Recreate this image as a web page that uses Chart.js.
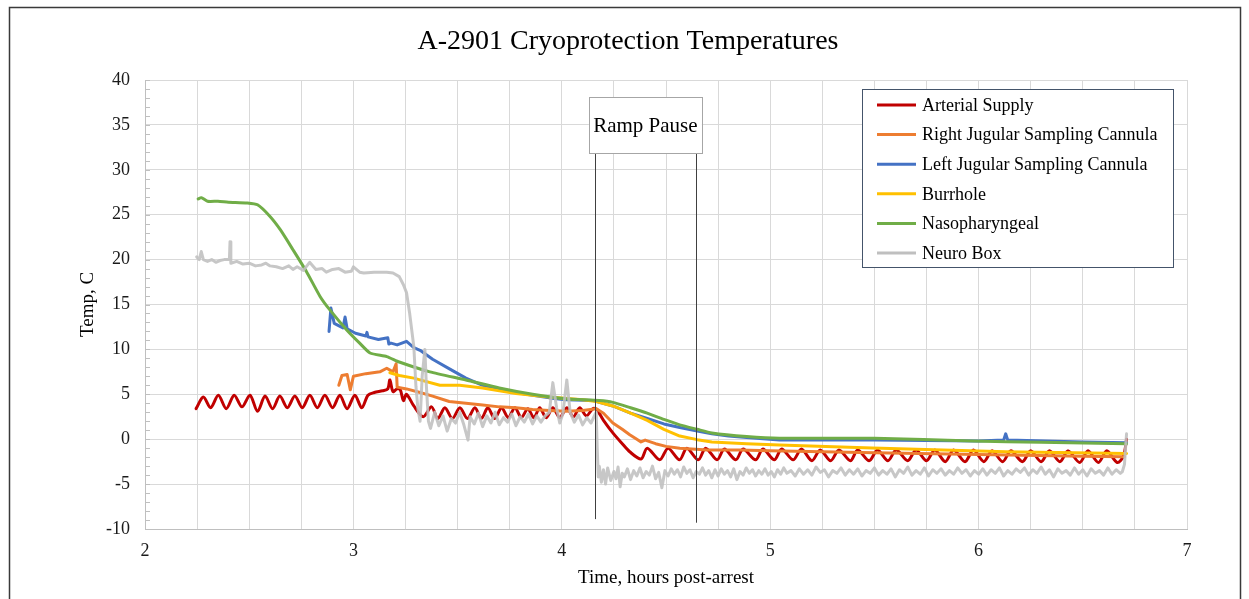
<!DOCTYPE html>
<html>
<head>
<meta charset="utf-8">
<script src="https://cdn.jsdelivr.net/npm/chart.js@4"></script>
<style>
html,body{margin:0;padding:0;background:#fff;}
canvas{display:block;}
</style>
</head>
<body>
<canvas id="c" width="1249" height="599"></canvas>
<script>
const titleText = 'A-2901 Cryoprotection Temperatures';
const xAxisTitle = 'Time, hours post-arrest';
const yAxisTitle = 'Temp, C';
const seriesNames = ['Arterial Supply','Right Jugular Sampling Cannula','Left Jugular Sampling Cannula','Burrhole','Nasopharyngeal','Neuro Box'];
const xTickMin = 2, xTickMax = 7, xTickStep = 0.25;
const yTickMin = -10, yTickMax = 40, yTickStep = 5;
const rampPauseLabel = 'Ramp Pause';
const rampPauseStart = 4.158, rampPauseEnd = 4.643;

const arterialSupply = [
[2.245,3.4],[2.28,4.7],[2.315,3.5],[2.352,4.9],[2.39,3.4],[2.428,4.9],[2.465,3.6],[2.504,4.9],[2.54,3.1],[2.576,4.8],
[2.612,3.4],[2.647,4.8],[2.683,3.5],[2.719,4.8],[2.755,3.5],[2.791,4.9],[2.827,3.5],[2.863,4.9],[2.9,3.5],[2.935,4.9],
[2.97,3.4],[3.007,4.9],[3.04,3.5],[3.07,4.9],[3.1,5.2],[3.14,5.4],[3.165,5.6],[3.175,6.6],[3.19,5.3],[3.21,5.6],
[3.225,5.5],[3.24,4.3],[3.255,5.0],[3.29,3.7],[3.335,2.5],[3.375,3.6],[3.405,2.3],[3.439,3.5],[3.475,2.3],[3.511,3.5],
[3.547,2.3],[3.583,3.5],[3.614,2.3],[3.645,3.5],[3.678,2.3],[3.711,3.5],[3.743,2.4],[3.775,3.5],[3.806,2.4],[3.837,3.4],
[3.866,2.4],[3.894,3.5],[3.925,2.4],[3.957,3.5],[3.99,2.4],[4.024,3.5],[4.055,2.5],[4.086,3.5],[4.118,2.6],[4.149,3.4],
[4.166,3.35],[4.2,2.1],[4.245,0.7],[4.29,-0.5],[4.326,-1.4],[4.38,-2.2],[4.41,-1.0],[4.47,-2.3],[4.51,-1.0],[4.565,-2.3],
[4.60,-1.0],[4.655,-2.3],[4.69,-1.0],[4.745,-2.3],[4.78,-1.1],[4.835,-2.3],[4.87,-1.1],[4.93,-2.3],[4.965,-1.1],[5.02,-2.3],
[5.055,-1.1],[5.11,-2.3],[5.15,-1.1],[5.20,-2.4],[5.24,-1.2],[5.29,-2.4],[5.33,-1.2],[5.385,-2.4],[5.42,-1.2],[5.475,-2.4],
[5.515,-1.2],[5.565,-2.4],[5.605,-1.2],[5.66,-2.4],[5.70,-1.2],[5.75,-2.4],[5.79,-1.2],[5.84,-2.5],[5.88,-1.2],[5.935,-2.5],
[5.975,-1.2],[6.025,-2.5],[6.065,-1.3],[6.115,-2.5],[6.155,-1.3],[6.21,-2.5],[6.25,-1.3],[6.30,-2.5],[6.34,-1.3],[6.39,-2.5],
[6.43,-1.3],[6.485,-2.6],[6.525,-1.3],[6.575,-2.6],[6.615,-1.3],[6.665,-2.6],[6.695,-1.9],[6.71,0.0]
];
const rightJugular = [
[2.93,6.0],[2.945,7.1],[2.97,7.2],[2.985,5.5],[3.0,7.0],[3.06,7.3],[3.127,7.5],[3.16,7.9],[3.19,7.5],[3.205,8.4],
[3.21,5.8],[3.255,5.6],[3.32,5.2],[3.38,4.8],[3.46,4.2],[3.54,4.0],[3.62,3.8],[3.70,3.6],[3.78,3.5],[3.86,3.3],
[3.94,3.2],[4.02,3.1],[4.1,3.2],[4.166,3.4],[4.2,2.9],[4.245,1.8],[4.29,1.1],[4.326,0.5],[4.36,0.0],[4.38,-0.3],
[4.4,-0.1],[4.45,-0.5],[4.5,-0.8],[4.566,-1.0],[4.7,-1.2],[4.85,-1.2],[5.0,-1.3],[5.5,-1.5],[6.0,-1.7],[6.5,-1.9],[6.7,-1.95]
];
const leftJugular = [
[2.883,12.0],[2.892,14.6],[2.908,12.9],[2.95,12.4],[2.96,13.6],[2.97,12.3],[3.01,11.8],[3.06,11.5],[3.065,11.9],[3.07,11.4],
[3.12,11.1],[3.165,11.3],[3.17,10.6],[3.18,10.7],[3.21,10.5],[3.255,10.9],[3.29,10.2],[3.32,9.9],[3.38,8.9],[3.463,7.8],
[3.54,6.8],[3.62,6.0],[3.70,5.6],[3.78,5.2],[3.86,4.9],[3.94,4.6],[4.02,4.4],[4.15,4.3],[4.245,3.7],[4.33,2.9],
[4.41,2.3],[4.49,1.7],[4.566,1.3],[4.65,0.9],[4.72,0.6],[4.8,0.35],[4.887,0.2],[5.045,-0.1],[5.5,-0.1],[6.0,-0.2],
[6.12,-0.1],[6.13,0.6],[6.14,-0.1],[6.5,-0.3],[6.71,-0.4]
];
const burrhole = [
[3.175,7.4],[3.22,7.1],[3.29,6.8],[3.32,6.6],[3.415,6.0],[3.51,6.0],[3.62,5.7],[3.78,5.1],[3.94,4.7],[4.10,4.4],
[4.166,4.2],[4.245,3.7],[4.33,2.9],[4.41,2.1],[4.49,1.1],[4.566,0.35],[4.65,-0.05],[4.72,-0.3],[4.887,-0.5],[5.045,-0.65],
[5.49,-0.97],[6.13,-1.4],[6.71,-1.6]
];
const nasopharyngeal = [
[2.255,26.75],[2.27,26.9],[2.3,26.5],[2.35,26.5],[2.4,26.4],[2.49,26.3],[2.54,26.1],[2.6,24.8],[2.65,23.3],[2.71,21.1],
[2.775,18.65],[2.84,15.9],[2.887,14.4],[2.967,12.2],[3.03,10.7],[3.08,9.6],[3.16,9.2],[3.22,8.6],[3.367,7.5],[3.54,6.6],
[3.70,5.7],[3.86,5.0],[4.02,4.5],[4.18,4.3],[4.245,4.1],[4.33,3.5],[4.41,2.9],[4.49,2.2],[4.566,1.6],[4.65,1.1],
[4.72,0.7],[4.887,0.3],[5.045,0.1],[5.5,0.1],[5.97,-0.2],[6.3,-0.35],[6.71,-0.5]
];
const neuroBox = [
[2.248,20.3],[2.26,20.0],[2.27,20.9],[2.28,20.0],[2.3,19.8],[2.32,20.0],[2.34,19.7],[2.36,19.9],[2.38,20.0],[2.405,20.0],
[2.408,22.0],[2.412,19.6],[2.44,19.8],[2.47,19.5],[2.5,19.6],[2.53,19.3],[2.56,19.4],[2.58,19.6],[2.6,19.3],[2.63,19.2],
[2.66,19.0],[2.69,19.3],[2.71,18.9],[2.73,19.2],[2.76,18.8],[2.79,19.7],[2.82,18.9],[2.85,19.0],[2.87,18.6],[2.9,18.9],
[2.93,19.0],[2.96,18.6],[2.99,18.7],[3.0,19.2],[3.03,18.6],[3.05,18.5],[3.1,18.6],[3.16,18.6],[3.19,18.5],[3.22,18.1],
[3.24,17.2],[3.255,16.3],[3.27,14.0],[3.29,10.3],[3.3,5.9],[3.31,3.3],[3.32,2.0],[3.33,7.0],[3.343,10.0],[3.35,6.0],
[3.36,2.0],[3.37,1.2],[3.39,3.0],[3.41,1.5],[3.43,2.6],[3.45,0.9],[3.47,2.3],[3.49,1.8],[3.51,3.0],[3.53,1.6],
[3.55,-0.1],[3.56,2.5],[3.58,1.7],[3.6,2.9],[3.62,1.4],[3.64,2.6],[3.66,1.8],[3.68,3.0],[3.7,1.6],[3.72,2.4],
[3.74,1.9],[3.76,2.8],[3.78,1.5],[3.8,2.5],[3.82,1.9],[3.84,2.8],[3.86,1.7],[3.88,2.6],[3.9,1.9],[3.92,2.6],
[3.94,3.0],[3.957,6.3],[3.975,3.5],[3.99,1.8],[4.005,2.8],[4.024,6.6],[4.04,3.0],[4.06,1.9],[4.08,2.7],[4.1,1.6],
[4.12,2.4],[4.14,1.8],[4.16,2.8],[4.165,3.0],[4.17,-1.0],[4.175,-4.2],[4.18,-3.0],[4.19,-4.8],[4.2,-3.4],[4.21,-5.0],
[4.22,-3.2],[4.235,-4.6],[4.25,-3.6],[4.26,-4.4],[4.27,-3.1],[4.28,-5.3],[4.29,-3.8],[4.3,-4.2],[4.315,-3.3],[4.33,-4.5],
[4.345,-3.5],[4.36,-4.1],[4.375,-3.2],[4.39,-4.3],[4.405,-3.6],[4.42,-4.0],[4.435,-3.0],[4.45,-4.4],[4.465,-3.7],[4.48,-5.4],
[4.495,-3.5],[4.51,-4.1],[4.525,-3.3],[4.54,-3.9],[4.555,-3.4],[4.57,-4.2],[4.585,-3.1],[4.6,-3.8],[4.615,-3.4],[4.63,-4.3],
[4.645,-3.6],[4.66,-3.9],[4.675,-3.2],[4.69,-4.0],[4.705,-3.5],[4.72,-4.3],[4.735,-3.4],[4.75,-4.1],[4.765,-3.3],[4.78,-3.9],
[4.795,-3.5],[4.81,-4.2],[4.825,-3.3],[4.84,-4.5],[4.855,-3.6],[4.87,-4.0],[4.885,-3.2],[4.9,-3.8],[4.915,-3.4],[4.93,-4.1],
[4.945,-3.5],[4.96,-3.9],[4.975,-3.3],[4.99,-4.0],[5.005,-3.6],[5.02,-4.2],[5.035,-3.4],[5.05,-3.9],[5.065,-3.2],[5.08,-3.8],
[5.1,-3.5],[5.12,-4.1],[5.14,-3.3],[5.16,-3.9],[5.18,-3.4],[5.2,-4.0],[5.22,-3.1],[5.24,-3.7],[5.26,-3.4],[5.28,-4.2],
[5.3,-3.5],[5.32,-3.8],[5.34,-3.2],[5.36,-4.0],[5.38,-3.4],[5.4,-3.9],[5.42,-3.3],[5.44,-4.1],[5.46,-3.5],[5.48,-3.8],
[5.5,-3.2],[5.52,-4.0],[5.54,-3.5],[5.56,-3.9],[5.58,-3.3],[5.6,-4.2],[5.62,-3.4],[5.64,-3.8],[5.66,-3.1],[5.68,-4.0],
[5.7,-3.5],[5.72,-3.9],[5.74,-3.2],[5.76,-4.1],[5.78,-3.4],[5.8,-3.8],[5.82,-3.3],[5.84,-4.0],[5.86,-3.5],[5.88,-3.9],
[5.9,-3.2],[5.92,-3.8],[5.94,-3.4],[5.96,-4.1],[5.98,-3.5],[6.0,-3.9],[6.02,-3.3],[6.04,-4.0],[6.06,-3.4],[6.08,-3.8],
[6.1,-3.2],[6.12,-4.1],[6.14,-3.5],[6.16,-3.9],[6.18,-3.3],[6.2,-3.7],[6.22,-3.2],[6.24,-4.0],[6.26,-3.4],[6.28,-3.8],
[6.3,-3.1],[6.32,-3.9],[6.34,-3.4],[6.36,-4.2],[6.38,-3.3],[6.4,-3.8],[6.42,-3.5],[6.44,-4.0],[6.46,-3.2],[6.48,-3.9],
[6.5,-3.4],[6.52,-4.1],[6.54,-3.3],[6.56,-3.8],[6.58,-3.5],[6.6,-4.0],[6.62,-3.2],[6.64,-3.9],[6.66,-3.4],[6.68,-3.8],
[6.69,-3.6],[6.7,-2.8],[6.705,-1.0],[6.71,0.6]
];

const seriesData = [arterialSupply, rightJugular, leftJugular, burrhole, nasopharyngeal, neuroBox];
const seriesColors = ['#C00000','#ED7D31','#4472C4','#FFC000','#70AD47','#BFBFBF'];
const drawColors = ['#C00000','#ED7D31','#4472C4','#FFC000','#70AD47','rgba(191,191,191,0.88)'];
const seriesTension = [0.3, 0, 0, 0, 0.2, 0];

const SERIF = '"Liberation Serif","Times New Roman",serif';

const decor = {
  id: 'decor',
  beforeDraw(chart) {
    const ctx = chart.ctx;
    ctx.save();
    ctx.fillStyle = '#fff';
    ctx.fillRect(0, 0, chart.width, chart.height);
    ctx.restore();
  },
  afterDatasetsDraw(chart) {
    const ctx = chart.ctx;
    const xs = chart.scales.x, ys = chart.scales.y;
    ctx.save();
    const bx1 = xs.getPixelForValue(4.13), bx2 = xs.getPixelForValue(4.672);
    const by1 = ys.getPixelForValue(38.1), by2 = ys.getPixelForValue(31.85);
    ctx.strokeStyle = '#404040';
    ctx.lineWidth = 1;
    const l1 = Math.round(xs.getPixelForValue(rampPauseStart)) + 0.5;
    const l2 = Math.round(xs.getPixelForValue(rampPauseEnd)) + 0.5;
    ctx.beginPath();
    ctx.moveTo(l1, by2); ctx.lineTo(l1, ys.getPixelForValue(-8.9));
    ctx.moveTo(l2, by2); ctx.lineTo(l2, ys.getPixelForValue(-9.3));
    ctx.stroke();
    ctx.fillStyle = '#fff';
    ctx.fillRect(bx1, by1, bx2 - bx1, by2 - by1);
    ctx.strokeStyle = '#a6a6a6';
    ctx.strokeRect(Math.round(bx1) + 0.5, Math.round(by1) + 0.5, Math.round(bx2 - bx1), Math.round(by2 - by1));
    ctx.fillStyle = '#000';
    ctx.font = '21px ' + SERIF;
    ctx.textAlign = 'center';
    ctx.textBaseline = 'middle';
    ctx.fillText(rampPauseLabel, (bx1 + bx2) / 2, (by1 + by2) / 2 + 1);
    ctx.restore();
  },
  afterDraw(chart) {
    const ctx = chart.ctx;
    const xs = chart.scales.x, ys = chart.scales.y;
    const area = chart.chartArea;
    ctx.save();
    ctx.strokeStyle = '#3a3a3a';
    ctx.lineWidth = 1.5;
    ctx.strokeRect(9.5, 7.5, 1231, 620);
    ctx.strokeStyle = '#bfbfbf';
    ctx.lineWidth = 1;
    ctx.beginPath();
    for (let v = yTickMin; v <= yTickMax; v += 1) {
      const py = Math.round(ys.getPixelForValue(v)) + 0.5;
      ctx.moveTo(area.left, py); ctx.lineTo(area.left + 5, py);
    }
    ctx.stroke();
    ctx.fillStyle = '#000';
    ctx.textAlign = 'center';
    ctx.textBaseline = 'middle';
    ctx.font = '28px ' + SERIF;
    ctx.fillText(titleText, 628, 42);
    ctx.font = '19px ' + SERIF;
    ctx.fillText(xAxisTitle, (area.left + area.right) / 2, 578);
    ctx.save();
    ctx.translate(88, (area.top + area.bottom) / 2);
    ctx.rotate(-Math.PI / 2);
    ctx.fillText(yAxisTitle, 0, 0);
    ctx.restore();
    const lx = 862.5, ly = 89.5, lw = 311, lh = 178;
    ctx.fillStyle = '#fff';
    ctx.fillRect(lx, ly, lw, lh);
    ctx.strokeStyle = '#44546A';
    ctx.lineWidth = 1;
    ctx.strokeRect(lx, ly, lw, lh);
    ctx.font = '18px ' + SERIF;
    ctx.textAlign = 'left';
    ctx.textBaseline = 'middle';
    chart.data.datasets.forEach((ds, i) => {
      const cy = 105 + i * 29.6;
      ctx.strokeStyle = seriesColors[i];
      ctx.lineWidth = 3;
      ctx.beginPath();
      ctx.moveTo(877, cy); ctx.lineTo(916, cy);
      ctx.stroke();
      ctx.fillStyle = '#000';
      ctx.fillText(ds.label, 922, cy + 1);
    });
    ctx.restore();
  }
};

const datasets = seriesNames.map((name, i) => ({
  label: name,
  data: seriesData[i].map(p => ({x: p[0], y: p[1]})),
  borderColor: drawColors[i],
  backgroundColor: drawColors[i],
  borderWidth: 3,
  pointRadius: 0,
  showLine: true,
  tension: seriesTension[i],
  fill: false,
  order: seriesNames.length - i,
  borderJoinStyle: 'round',
  borderCapStyle: 'round'
}));

new Chart(document.getElementById('c'), {
  type: 'scatter',
  data: { datasets },
  plugins: [decor],
  options: {
    responsive: false,
    animation: false,
    devicePixelRatio: 1,
    layout: { padding: { top: 80, right: 62, bottom: 0, left: 0 } },
    plugins: { legend: { display: false }, title: { display: false }, tooltip: { enabled: false } },
    scales: {
      x: {
        type: 'linear', min: xTickMin, max: xTickMax,
        ticks: {
          stepSize: xTickStep, autoSkip: false, maxRotation: 0, padding: 11,
          color: '#1a1a1a', font: { family: SERIF, size: 18 },
          callback: v => Number.isInteger(v) ? String(v) : ''
        },
        grid: { color: '#d9d9d9', drawTicks: false, lineWidth: 1 },
        border: { color: '#bfbfbf', width: 1 },
        afterFit: s => { s.height = 70; }
      },
      y: {
        type: 'linear', min: yTickMin, max: yTickMax,
        ticks: {
          stepSize: yTickStep, padding: 15,
          color: '#1a1a1a', font: { family: SERIF, size: 18 }
        },
        grid: { color: '#d9d9d9', drawTicks: false, lineWidth: 1 },
        border: { color: '#bfbfbf', width: 1 },
        afterFit: s => { s.width = 145; }
      }
    }
  }
});
</script>
</body>
</html>
